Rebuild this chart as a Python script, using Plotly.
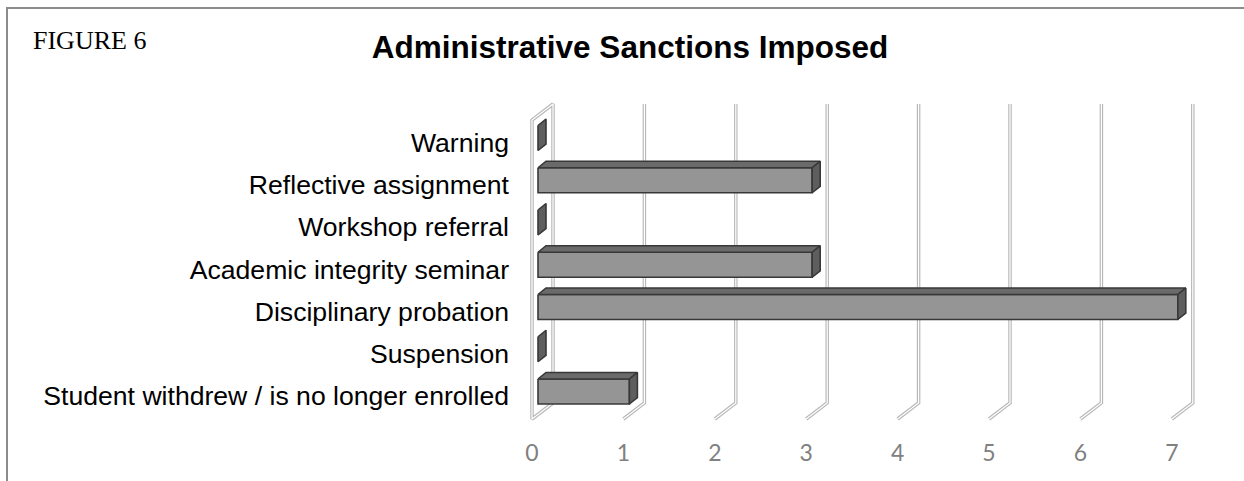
import plotly.graph_objects as go

# ---------------- data ----------------
categories = [
    "Warning",
    "Reflective assignment",
    "Workshop referral",
    "Academic integrity seminar",
    "Disciplinary probation",
    "Suspension",
    "Student withdrew / is no longer enrolled",
]
values = [0, 3, 0, 3, 7, 0, 1]
x_ticks = [0, 1, 2, 3, 4, 5, 6, 7]
title_text = "Administrative Sanctions Imposed"
figure_label = "FIGURE 6"

# ---------------- layout geometry (pixels) ----------------
W, H = 1244, 481
L, R, T, B = 520, 1215, 95, 437
PX = 91.4       # px per value unit
PY = 42.25      # px per category step
x0_px = 532     # pixel of value 0
y0_px = 142.5   # pixel of first category label

x_lo = (L - x0_px) / PX
x_hi = (R - x0_px) / PX
y_top = (T - y0_px) / PY
y_bot = (B - y0_px) / PY

# 3D styling offsets (converted to data units)
bar_dx0 = 6 / PX
depth_dx = 8 / PX
depth_dy = -6.5 / PY
half_h = 12.5 / PY
bar_shift = -4.5 / PY
g_dx = 21 / PX
g_dy = -16 / PY
g_front = (419 - y0_px) / PY
g_top = (104 - y0_px) / PY

fig = go.Figure()

# ---------------- gridlines + wall ----------------
gx, gy = [], []
for v in x_ticks[1:]:
    gx += [v, v + g_dx, v + g_dx, None]
    gy += [g_front, g_front + g_dy, g_top, None]
wall_top_front = g_top - g_dy
gx += [0 + g_dx, 0, 0, 0 + g_dx, 0 + g_dx]
gy += [g_front + g_dy, g_front, wall_top_front, g_top, g_front + g_dy]

fig.add_trace(go.Scatter(x=gx, y=gy, mode="lines",
                         line=dict(color="#b8b8b8", width=3.5),
                         hoverinfo="skip", showlegend=False, cliponaxis=False))
fig.add_trace(go.Scatter(x=gx, y=gy, mode="lines",
                         line=dict(color="#ffffff", width=1.2),
                         hoverinfo="skip", showlegend=False, cliponaxis=False))

# ---------------- 3D bars ----------------
fx, fy, tx, ty, sx, sy = [], [], [], [], [], []
for i, v in enumerate(values):
    yc = i + bar_shift
    a = bar_dx0
    b = v + bar_dx0
    y1, y2 = yc - half_h, yc + half_h
    if v > 0:
        fx += [a, b, b, a, a, None]
        fy += [y1, y1, y2, y2, y1, None]
        tx += [a, b, b + depth_dx, a + depth_dx, a, None]
        ty += [y1, y1, y1 + depth_dy, y1 + depth_dy, y1, None]
    sx += [b, b + depth_dx, b + depth_dx, b, b, None]
    sy += [y1, y1 + depth_dy, y2 + depth_dy, y2, y1, None]

outline = dict(color="#383838", width=1.6)
fig.add_trace(go.Scatter(x=fx, y=fy, mode="lines", fill="toself",
                         fillcolor="#959595", line=outline,
                         hoverinfo="skip", showlegend=False))
fig.add_trace(go.Scatter(x=tx, y=ty, mode="lines", fill="toself",
                         fillcolor="#6a6a6a", line=outline,
                         hoverinfo="skip", showlegend=False))
fig.add_trace(go.Scatter(x=sx, y=sy, mode="lines", fill="toself",
                         fillcolor="#5e5e5e", line=outline,
                         hoverinfo="skip", showlegend=False))

# ---------------- layout ----------------
def px_to_paper_x(p):
    return (p - L) / (R - L)

def px_to_paper_y(p):
    return (B - p) / (B - T)

fig.update_layout(
    width=W, height=H,
    margin=dict(l=L, r=W - R, t=T, b=H - B),
    paper_bgcolor="white", plot_bgcolor="white",
    showlegend=False,
    title=dict(text=f"<b>{title_text}</b>", xref="container", yref="container",
               x=630 / W, y=1 - 47 / H, xanchor="center", yanchor="middle",
               font=dict(family="Liberation Sans, Arial, sans-serif", size=31.5, color="#000000")),
    xaxis=dict(range=[x_lo, x_hi], tickvals=x_ticks, ticktext=[str(t) for t in x_ticks],
               showgrid=False, zeroline=False, showline=False, ticks="",
               tickfont=dict(family="Lato, Open Sans, sans-serif", size=23, color="#808080"),
               fixedrange=True),
    yaxis=dict(range=[y_bot, y_top], tickvals=list(range(len(categories))), ticktext=categories,
               showgrid=False, zeroline=False, showline=False, ticks="",
               ticklabelstandoff=10,
               tickfont=dict(family="Liberation Sans, Arial, sans-serif", size=26.6, color="#000000"),
               fixedrange=True),
    annotations=[dict(text=figure_label, xref="paper", yref="paper",
                      x=px_to_paper_x(31), y=px_to_paper_y(40), xanchor="left", yanchor="middle",
                      showarrow=False,
                      font=dict(family="Liberation Serif, Times New Roman, serif", size=26, color="#000000"))],
    shapes=[dict(type="path", xref="paper", yref="paper",
                 path=f"M {px_to_paper_x(7)},{px_to_paper_y(H + 5)} L {px_to_paper_x(7)},{px_to_paper_y(8)} L {px_to_paper_x(W + 5)},{px_to_paper_y(8)}",
                 line=dict(color="#8c8c8c", width=2))],
)

fig.write_html("out.html",
               config={"displayModeBar": False},
               post_script="document.body.style.margin='0';document.body.style.overflow='hidden';")
